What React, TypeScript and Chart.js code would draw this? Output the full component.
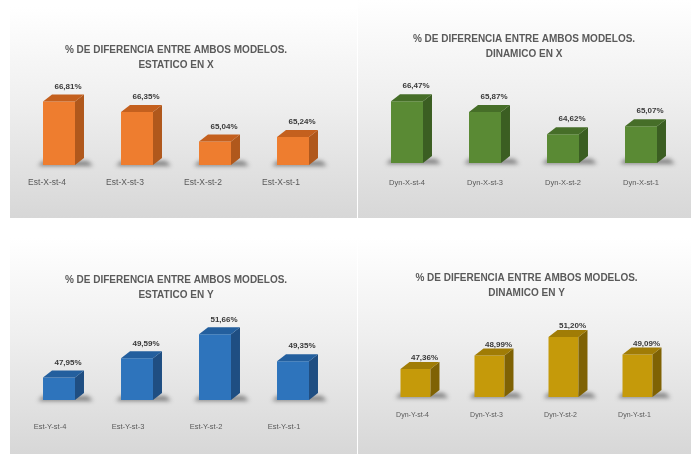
import React, { useEffect, useRef } from 'react';
import { Chart, registerables } from 'chart.js';

Chart.register(...registerables);

const titleLine1 = '% DE DIFERENCIA ENTRE AMBOS MODELOS.';

const estXLabels = ['Est-X-st-4', 'Est-X-st-3', 'Est-X-st-2', 'Est-X-st-1'];
const estXValues = [66.81, 66.35, 65.04, 65.24];

const dynXLabels = ['Dyn-X-st-4', 'Dyn-X-st-3', 'Dyn-X-st-2', 'Dyn-X-st-1'];
const dynXValues = [66.47, 65.87, 64.62, 65.07];

const estYLabels = ['Est-Y-st-4', 'Est-Y-st-3', 'Est-Y-st-2', 'Est-Y-st-1'];
const estYValues = [47.95, 49.59, 51.66, 49.35];

const dynYLabels = ['Dyn-Y-st-4', 'Dyn-Y-st-3', 'Dyn-Y-st-2', 'Dyn-Y-st-1'];
const dynYValues = [47.36, 48.99, 51.2, 49.09];

const FONT = '"Liberation Sans", Arial, sans-serif';

const fmt = (v: number) => v.toFixed(2).replace('.', ',') + '%';

const bar3d = {
  id: 'bar3d',
  beforeDraw(chart: any) {
    const { ctx, width, height } = chart;
    const g = ctx.createLinearGradient(0, 0, 0, height);
    g.addColorStop(0, '#ffffff');
    g.addColorStop(0.45, '#efefef');
    g.addColorStop(1, '#d7d7d7');
    ctx.save();
    ctx.fillStyle = g;
    ctx.fillRect(0, 0, width, height);
    ctx.restore();
  },
  beforeDatasetsDraw(chart: any, _a: any, o: any) {
    const { ctx } = chart;
    const bottom = chart.scales.y.bottom;
    const meta = chart.getDatasetMeta(0);
    ctx.save();
    ctx.filter = 'blur(2px)';
    ctx.fillStyle = 'rgba(50,50,50,0.55)';
    meta.data.forEach((el: any) => {
      const { x, width } = el.getProps(['x', 'width'], true);
      const base = bottom;
      const l = x - width / 2;
      const r = x + width / 2;
      ctx.beginPath();
      ctx.moveTo(l - 5, base + 1);
      ctx.lineTo(r + o.dx + 9, base + 1);
      ctx.lineTo(r + o.dx + 4, base - o.dy + 3);
      ctx.lineTo(l, base - o.dy + 3);
      ctx.closePath();
      ctx.fill();
    });
    ctx.restore();
  },
  afterDatasetsDraw(chart: any, _a: any, o: any) {
    const { ctx } = chart;
    const bottom = chart.scales.y.bottom;
    const meta = chart.getDatasetMeta(0);
    const data = chart.data.datasets[0].data;
    ctx.save();
    meta.data.forEach((el: any, i: number) => {
      const { x, y, width } = el.getProps(['x', 'y', 'width'], true);
      const base = bottom;
      const l = x - width / 2;
      const r = x + width / 2;
      ctx.fillStyle = o.side;
      ctx.beginPath();
      ctx.moveTo(r, y);
      ctx.lineTo(r + o.dx, y - o.dy);
      ctx.lineTo(r + o.dx, base - o.dy);
      ctx.lineTo(r, base);
      ctx.closePath();
      ctx.fill();
      ctx.fillStyle = o.top;
      ctx.beginPath();
      ctx.moveTo(l, y);
      ctx.lineTo(l + o.dx, y - o.dy);
      ctx.lineTo(r + o.dx, y - o.dy);
      ctx.lineTo(r, y);
      ctx.closePath();
      ctx.fill();
      ctx.fillStyle = '#3a3a3a';
      ctx.font = 'bold 8px ' + FONT;
      ctx.textAlign = 'center';
      ctx.textBaseline = 'middle';
      ctx.fillText(fmt(data[i]), x + o.labelDx, y - o.labelGap);
    });
    ctx.restore();
  },
};

type PanelProps = {
  left: number; top: number; w: number; h: number;
  labels: string[]; values: number[]; sub: string;
  min: number; max: number;
  front: string; side: string; topC: string;
  titleTop: number; titleBottom: number;
  axisH: number; tickPad: number; tickSize: number; labelOffset: number;
  padL: number; padR: number; barPct: number; labelGap: number;
};

function Panel(p: PanelProps) {
  const ref = useRef<HTMLCanvasElement>(null);
  useEffect(() => {
    if (!ref.current) return;
    const chart = new Chart(ref.current, {
      type: 'bar',
      data: {
        labels: p.labels,
        datasets: [{ data: p.values, backgroundColor: p.front, borderWidth: 0, categoryPercentage: 1, barPercentage: p.barPct }],
      },
      options: {
        responsive: false,
        animation: false,
        events: [],
        layout: { padding: { left: p.padL, right: p.padR, top: 0, bottom: 0 } },
        plugins: {
          legend: { display: false },
          tooltip: { enabled: false },
          title: {
            display: true,
            text: [titleLine1, p.sub],
            color: '#5a5a5a',
            font: { size: 10, weight: 'bold', family: FONT, lineHeight: 1.5 },
            padding: { top: p.titleTop, bottom: p.titleBottom },
          },
          bar3d: { side: p.side, top: p.topC, dx: 9, dy: 7, labelGap: p.labelGap, labelDx: 9 },
        } as any,
        scales: {
          x: {
            grid: { display: false, drawTicks: false },
            border: { display: false },
            ticks: { color: '#595959', font: { size: p.tickSize, family: FONT }, padding: p.tickPad, labelOffset: p.labelOffset, maxRotation: 0 },
            afterFit: (s: any) => { s.height = p.axisH; },
          },
          y: { display: false, min: p.min, max: p.max },
        },
      },
      plugins: [bar3d],
    });
    return () => chart.destroy();
  }, []);
  return (
    <div style={{ position: 'absolute', left: p.left, top: p.top, width: p.w, height: p.h }}>
      <canvas ref={ref} width={p.w} height={p.h} style={{ display: 'block', width: p.w, height: p.h }} />
    </div>
  );
}

export default function App() {
  return (
    <div style={{ position: 'fixed', left: 0, top: 0, width: 691, height: 454, background: '#ffffff', overflow: 'hidden' }}>
      <Panel left={10} top={7} w={347} h={211} labels={estXLabels} values={estXValues} sub="ESTATICO EN X"
        min={64} max={67.5} front="#ee7d2f" side="#b0581c" topC="#c4601e"
        titleTop={35.5} titleBottom={13.4} axisH={53} tickPad={13} tickSize={8.5} labelOffset={-12}
        padL={10} padR={25} barPct={0.41} labelGap={15} />
      <Panel left={358} top={0} w={333} h={218} labels={dynXLabels} values={dynXValues} sub="DINAMICO EN X"
        min={63} max={67.5} front="#5a8a34" side="#3b5e22" topC="#466e28"
        titleTop={31.5} titleBottom={21.4} axisH={55} tickPad={15} tickSize={7.5} labelOffset={0}
        padL={10} padR={11} barPct={0.41} labelGap={15} />
      <Panel left={10} top={238} w={347} h={216} labels={estYLabels} values={estYValues} sub="ESTATICO EN Y"
        min={46} max={52.5} front="#2e74bc" side="#1f4e82" topC="#235f9e"
        titleTop={34.5} titleBottom={22.1} axisH={54} tickPad={22} tickSize={7.5} labelOffset={-9}
        padL={10} padR={25} barPct={0.41} labelGap={15} />
      <Panel left={358} top={238} w={333} h={216} labels={dynYLabels} values={dynYValues} sub="DINAMICO EN Y"
        min={44} max={53} front="#c59a0a" side="#7f6204" topC="#a07c06"
        titleTop={32.5} titleBottom={21.5} axisH={57} tickPad={14} tickSize={7} labelOffset={-3}
        padL={20.5} padR={16.5} barPct={0.405} labelGap={11} />
    </div>
  );
}
